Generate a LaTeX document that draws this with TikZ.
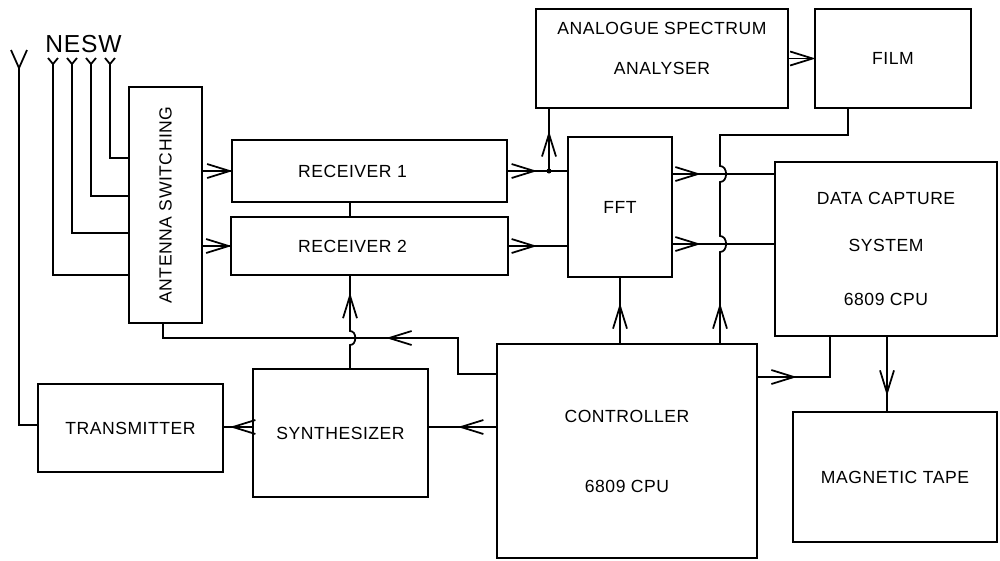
\documentclass[tikz,border=0pt]{standalone}
\usepackage{fontspec}
\setmainfont{Liberation Sans}[LetterSpace=3]
\usetikzlibrary{arrows.meta,decorations.markings}
\newcommand{\pxu}{0.2mm}
\newcommand{\chev}{\draw[line width=1pt, line join=miter] (-4.5mm,1.4mm) -- (0,0) -- (-4.5mm,-1.4mm);}

\begin{document}
\begin{tikzpicture}[
    x=0.2mm, y=-0.2mm,
    blk/.style={draw, line width=1pt, align=center, inner sep=0pt, font=\fontsize{10}{12}\selectfont},
    wire/.style={line width=1pt},
    flow/.style={wire, postaction={decorate}, decoration={markings, mark=at position #1 with {\chev}}},
    hop/.style={out=0, in=0, looseness=1.3},
]
\useasboundingbox (0,0) rectangle (1000,560);

\node[blk, minimum width=73*\pxu, minimum height=236*\pxu] (antsw) at (165.5,205) {\rotatebox{90}{ANTENNA SWITCHING}};
\node[blk, minimum width=275*\pxu, minimum height=62*\pxu] (rx1) at (369.5,171) {RECEIVER 1\hspace*{6.8mm}};
\node[blk, minimum width=277*\pxu, minimum height=58*\pxu] (rx2) at (369.5,246) {RECEIVER 2\hspace*{6.8mm}};
\node[blk, minimum width=104*\pxu, minimum height=140*\pxu] (fft) at (620,207) {FFT};
\node[blk, minimum width=252*\pxu, minimum height=99*\pxu] (asa) at (662,58.5) {ANALOGUE SPECTRUM\\[3.8mm]ANALYSER\\[-0.2mm]\mbox{}};
\node[blk, minimum width=156*\pxu, minimum height=99*\pxu] (film) at (893,58.5) {FILM};
\node[blk, minimum width=222*\pxu, minimum height=174*\pxu] (dcs) at (886,249) {DATA CAPTURE\\[5mm]SYSTEM\\[6.6mm]6809 CPU};
\node[blk, minimum width=204*\pxu, minimum height=130*\pxu] (mtape) at (895,477) {MAGNETIC TAPE};
\node[blk, minimum width=260*\pxu, minimum height=214*\pxu] (ctrl) at (627,451) {CONTROLLER\\[9.8mm]6809 CPU};
\node[blk, minimum width=175*\pxu, minimum height=128*\pxu] (synth) at (340.5,433) {SYNTHESIZER};
\node[blk, minimum width=185*\pxu, minimum height=88*\pxu] (tx) at (130.5,428) {TRANSMITTER};

\node[font=\fontsize{14}{16}\selectfont, anchor=base] (dirs) at (83.5,52) {NESW};

\coordinate (ant) at (19,68);
\coordinate (antN) at (53,64);
\coordinate (antE) at (72,64);
\coordinate (antS) at (91,64);
\coordinate (antW) at (110,64);
\coordinate (jn) at (549,171);

\draw[wire] (ant) -- ++(-8,-18) (ant) -- ++(8,-18);
\foreach \a in {antN,antE,antS,antW}
  \draw[wire] (\a) -- ++(-5,-6) (\a) -- ++(5,-6);

\draw[wire] (antW) |- (antsw.west |- 0,158);
\draw[wire] (antS) |- (antsw.west |- 0,196);
\draw[wire] (antE) |- (antsw.west |- 0,233);
\draw[wire] (antN) |- (antsw.west |- 0,275);
\draw[wire] (ant) |- (tx.west |- 0,425);

\draw[flow=-0.3mm] (antsw.east |- rx1.west) -- (rx1.west);
\draw[flow=-0.3mm] (antsw.east |- rx2.west) -- (rx2.west);
\draw[wire] (rx1.south -| 350,0) -- (rx2.north -| 350,0);

\draw[flow=-6.6mm] (rx1.east) -- (fft.west |- rx1.east);
\fill (jn) circle[radius=0.5mm];
\draw[flow=7.4mm] (jn) -- (asa.south -| jn);
\draw[flow=-6.6mm] (rx2.east) -- (fft.west |- rx2.east);
\draw[flow=-0.3mm] (asa.east) -- (film.west);

\draw[flow=5mm] (fft.east |- 0,174) -- (dcs.west |- 0,174);
\draw[flow=5mm] (fft.east |- 0,244) -- (dcs.west |- 0,244);

\draw[flow=7.4mm] (ctrl.north -| 720,0) -- (720,252) to[hop] (720,236) -- (720,182) to[hop] (720,166) -- (720,135) -| (film.south -| 848,0);
\draw[flow=7.4mm] (ctrl.north -| fft.south) -- (fft.south);
\draw[flow=7.2mm] (ctrl.east |- 0,377) -| (dcs.south -| 830,0);
\draw[flow=11.2mm] (dcs.south -| 887,0) -- (mtape.north -| 887,0);

\draw[flow=28.6mm] (ctrl.west |- 0,374) -| (458,338) -| (antsw.south -| 163,0);
\draw[flow=-6.4mm] (ctrl.west |- 0,427) -- (synth.east |- 0,427);
\draw[flow=-1.8mm] (synth.west |- 0,427) -- (tx.east |- 0,427);
\draw[flow=15.6mm] (synth.north -| 350,0) -- (350,345) to[hop] (350,331) -- (rx2.south -| 350,0);
\end{tikzpicture}
\end{document}
